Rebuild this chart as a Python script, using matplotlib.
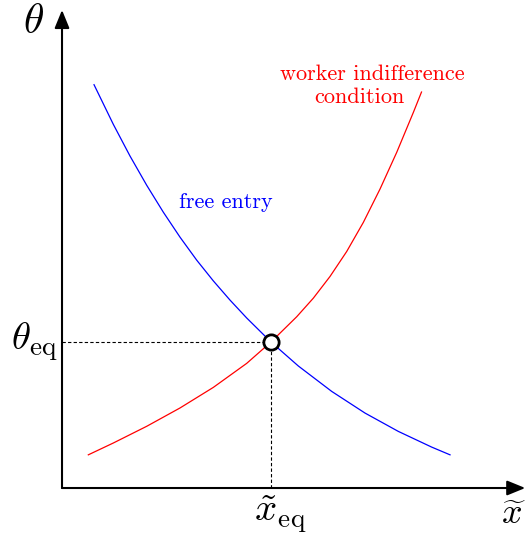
import numpy as np
import matplotlib.pyplot as plt

plt.rcParams['font.family'] = 'serif'
plt.rcParams['font.serif'] = ['cmr10']
plt.rcParams['mathtext.fontset'] = 'cm'

# free entry curve (decreasing)
free_x = [6.96, 11.15, 14.78, 18.41, 22.02, 25.65, 29.28, 32.89, 36.52, 40.15,
          45.43, 51.37, 58.63, 65.87, 73.11, 80.37, 84.35]
free_y = [84.71, 76.39, 69.73, 63.59, 57.94, 52.69, 47.86, 43.51, 39.47, 35.71,
          30.67, 25.63, 20.29, 15.74, 11.89, 8.59, 6.97]

# worker indifference curve (increasing)
wic_x = [5.72, 11.15, 18.41, 25.65, 32.89, 40.15, 45.43, 51.02, 54.63, 58.26,
         61.89, 65.5, 69.13, 72.76, 76.37, 78.15]
wic_y = [6.97, 9.45, 12.96, 16.81, 21.13, 26.18, 30.67, 35.97, 39.87, 44.43,
         49.68, 55.78, 62.79, 70.50, 78.87, 83.17]

# equilibrium
x_eq = 45.43
theta_eq = 30.67

fig = plt.figure(figsize=(5.28, 5.36), dpi=100)
ax = fig.add_axes([0, 0, 1, 1])
ax.set_xlim(-13.48, 101.3)
ax.set_ylim(-10.08, 102.5)
ax.axis('off')

# axes with arrows
arrow = dict(arrowstyle='-|>,head_length=1.1,head_width=0.45',
             lw=1.5, color='black', shrinkA=0, shrinkB=0)
ax.annotate('', xy=(100.7, 0), xytext=(0, 0), arrowprops=arrow)
ax.annotate('', xy=(0, 100.4), xytext=(0, 0), arrowprops=arrow)

ax.plot(free_x, free_y, color='blue', lw=0.9)
ax.plot(wic_x, wic_y, color='red', lw=0.9)

ax.plot([0, x_eq], [theta_eq, theta_eq], color='black', lw=0.8, ls=(0, (3, 2)))
ax.plot([x_eq, x_eq], [0, theta_eq], color='black', lw=0.8, ls=(0, (3, 2)))
ax.plot([x_eq], [theta_eq], 'o', markersize=11, markerfacecolor='white',
        markeredgecolor='black', markeredgewidth=2, zorder=5)

ax.text(-6.3, 97.9, r'$\theta$', fontsize=30, ha='center', va='center')
ax.text(-0.9, 30.7, r'$\theta_{\mathrm{eq}}$', fontsize=28, ha='right', va='center')
ax.text(47.4, -1.0, r'$\tilde{x}_{\mathrm{eq}}$', fontsize=28, ha='center', va='top')
ax.text(100.9, -2.4, r'$\widetilde{x}$', fontsize=26, ha='right', va='top')

ax.text(67.4, 87.0, 'worker indifference', color='red', fontsize=16,
        ha='center', va='center')
ax.text(64.6, 82.0, 'condition', color='red', fontsize=16,
        ha='center', va='center')
ax.text(35.7, 60.1, 'free entry', color='blue', fontsize=16, ha='center', va='center')

plt.savefig('out.png', dpi=100)
